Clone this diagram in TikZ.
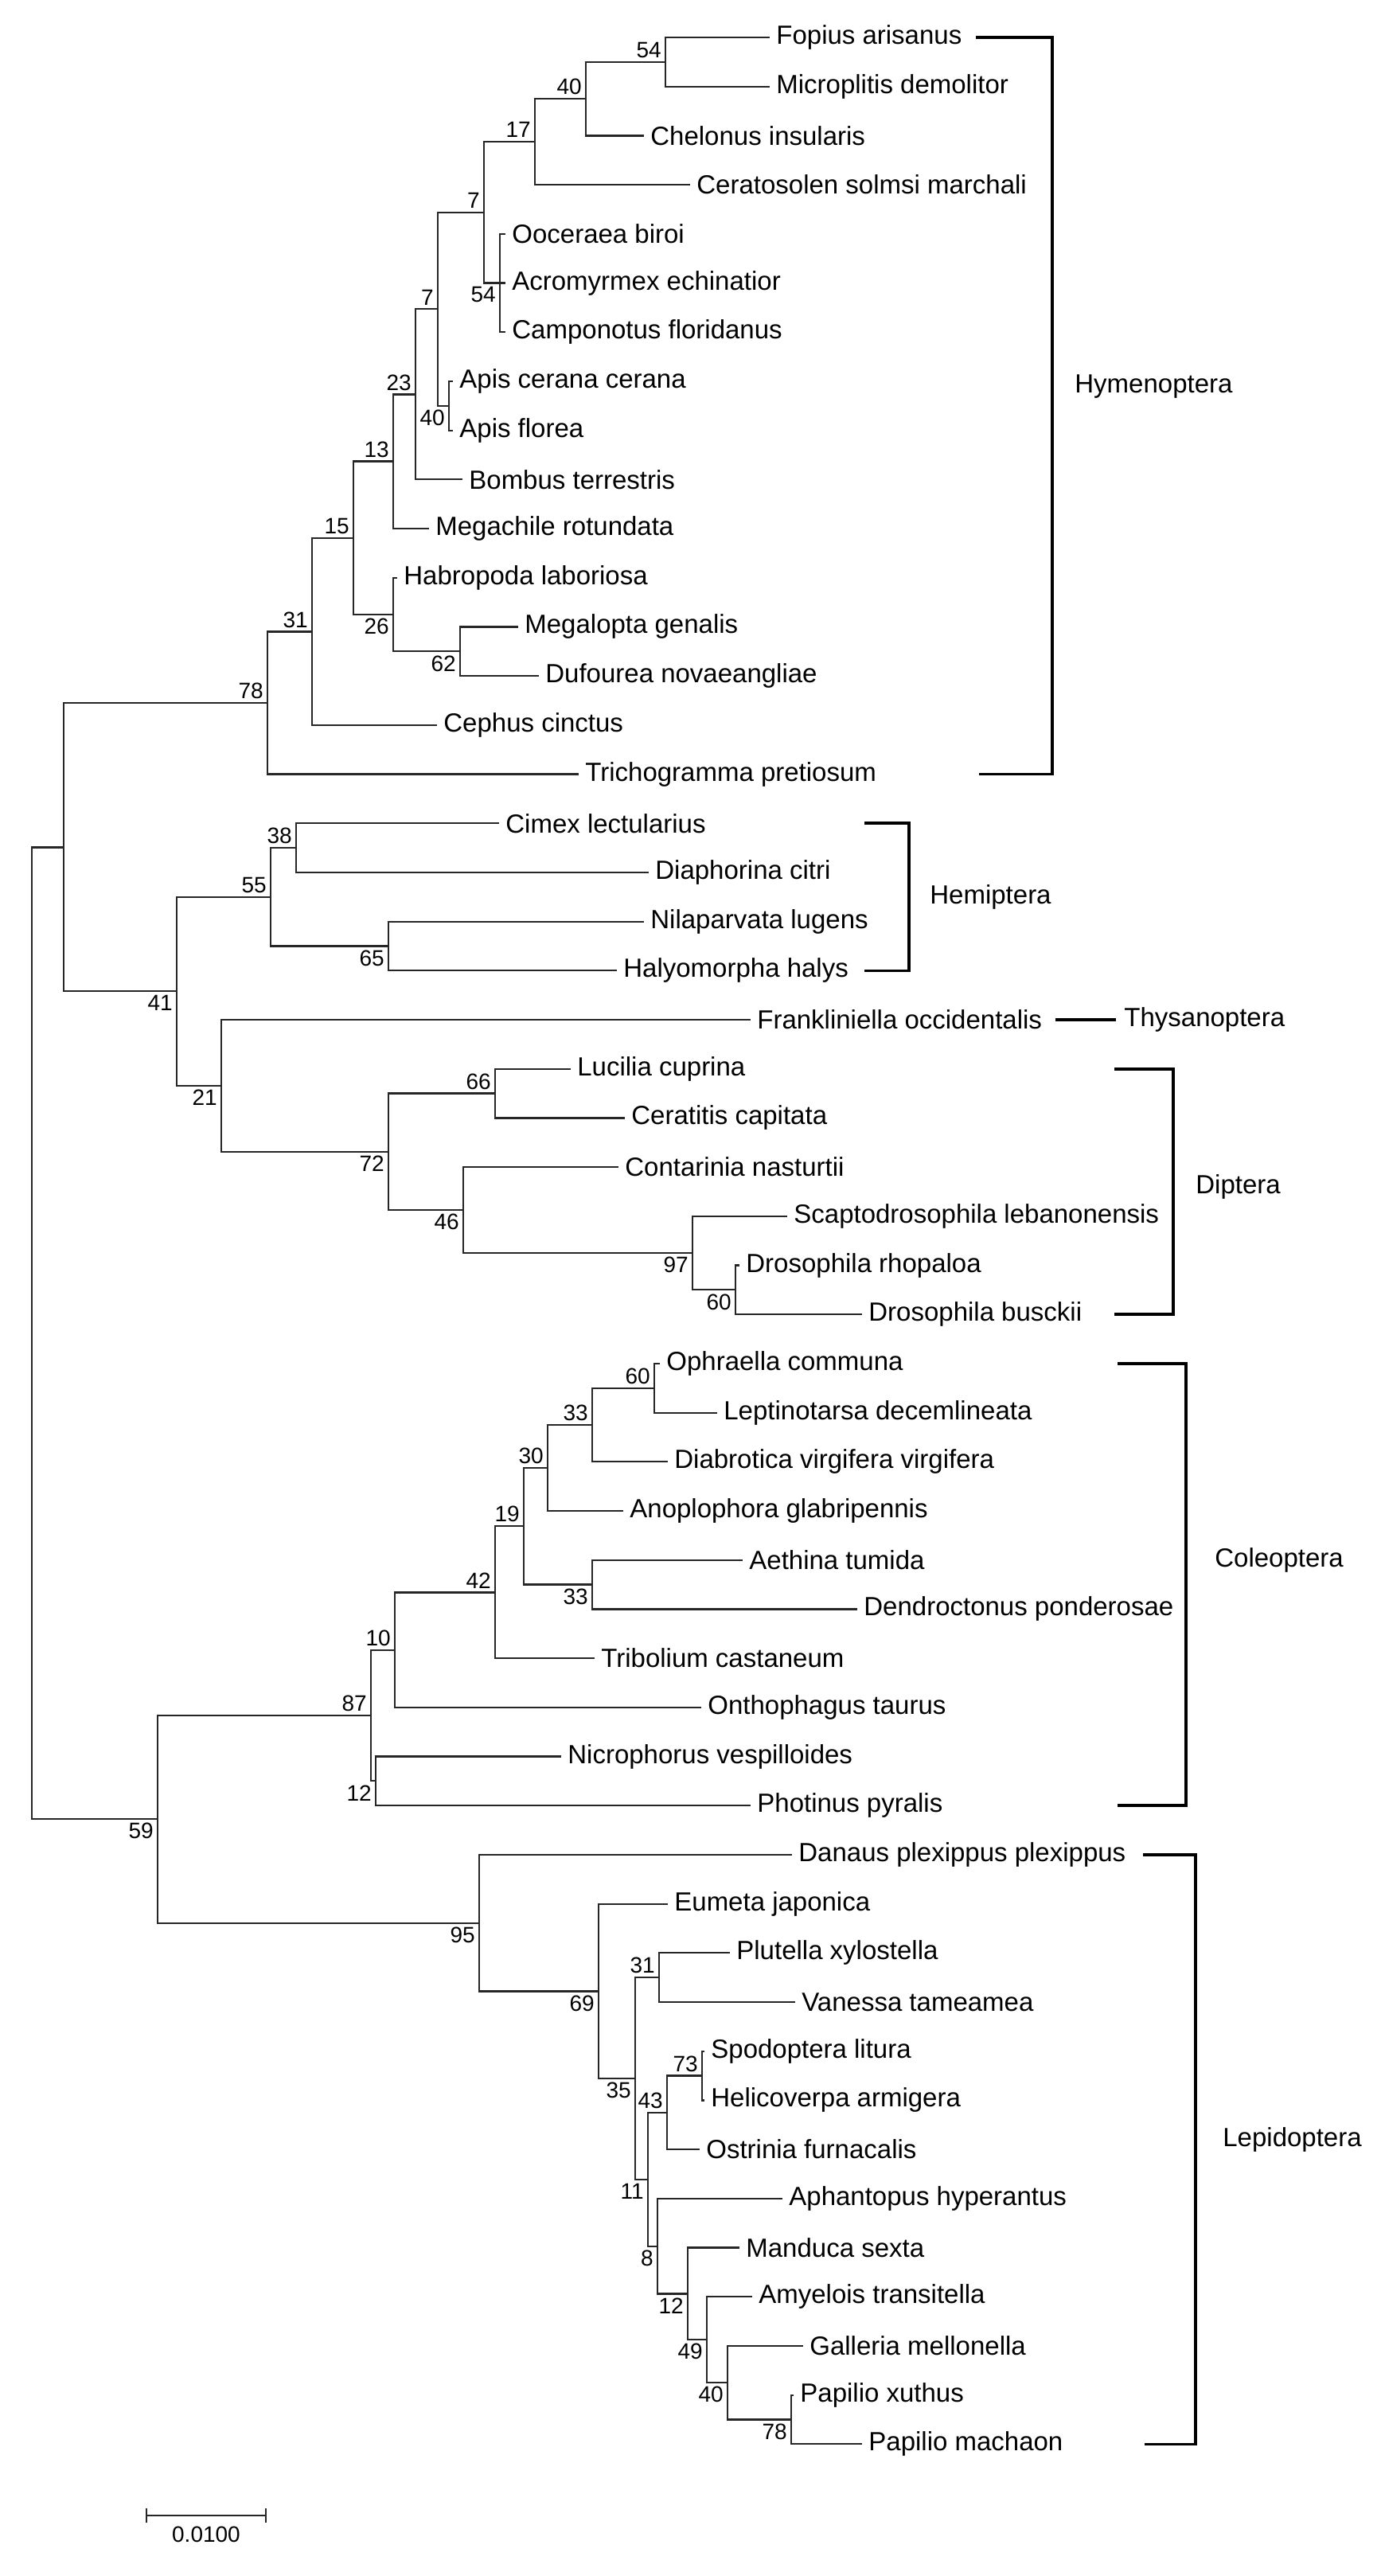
\documentclass[tikz,border=0pt]{standalone}
\usepackage{fontspec}
\setmainfont{Liberation Sans}
\begin{document}
\begin{tikzpicture}[x=1pt,y=-30.85pt,
 br/.style={line width=1.1pt,draw=black!85,line cap=rect},
 lf/.style={anchor=west,inner sep=0pt,font=\fontsize{16.5}{18}\selectfont},
 bs/.style={inner sep=2.4pt,font=\fontsize{14}{15}\selectfont},
 cl/.style={line width=1.8pt,draw=black},
 cn/.style={anchor=west,inner sep=0pt,font=\fontsize{16.5}{18}\selectfont}]
\useasboundingbox (0,-0.762) rectangle (867.5,51.686);
\newcommand\lfx[4]{\coordinate (#1) at (#3,#2); \node[lf] (t#1) at ([xshift=4.5pt]#1) {#4};}
\newcommand\kid[2]{\draw[br] (#1 |- #2) -- (#2);}
\newcommand\vsp[3]{\draw[br] (#1 |- #2) -- (#1 |- #3);}
\newcommand\bsa[2]{\node[bs,above left] (b#1) at (#1) {#2};}
\newcommand\bsb[2]{\node[bs,below left] (b#1) at (#1) {#2};}
% leaves
\lfx{Fopius}{0}{483}{Fopius arisanus}
\lfx{Micro}{1}{483}{Microplitis demolitor}
\lfx{Chel}{2}{404}{Chelonus insularis}
\lfx{Cerato}{3}{433}{Ceratosolen solmsi marchali}
\lfx{Oocer}{4}{317}{Ooceraea biroi}
\lfx{Acro}{5}{317}{Acromyrmex echinatior}
\lfx{Campo}{6}{317}{Camponotus floridanus}
\lfx{ApisC}{7}{284}{Apis cerana cerana}
\lfx{ApisF}{8}{284}{Apis florea}
\lfx{Bomb}{9}{290}{Bombus terrestris}
\lfx{Megach}{10}{269}{Megachile rotundata}
\lfx{Habro}{11}{249}{Habropoda laboriosa}
\lfx{Megalo}{12}{325}{Megalopta genalis}
\lfx{Dufo}{13}{338}{Dufourea novaeangliae}
\lfx{Ceph}{14}{274}{Cephus cinctus}
\lfx{Tricho}{15}{363}{Trichogramma pretiosum}
\lfx{Cimex}{16}{313}{Cimex lectularius}
\lfx{Diaph}{17}{407}{Diaphorina citri}
\lfx{Nila}{18}{404}{Nilaparvata lugens}
\lfx{Halyo}{19}{387}{Halyomorpha halys}
\lfx{Frank}{20}{471}{Frankliniella occidentalis}
\lfx{Luci}{21}{358}{Lucilia cuprina}
\lfx{Cerat}{22}{392}{Ceratitis capitata}
\lfx{Conta}{23}{388}{Contarinia nasturtii}
\lfx{Scapto}{24}{494}{Scaptodrosophila lebanonensis}
\lfx{Drho}{25}{464}{Drosophila rhopaloa}
\lfx{Dbus}{26}{541}{Drosophila busckii}
\lfx{Ophr}{27}{414}{Ophraella communa}
\lfx{Lept}{28}{450}{Leptinotarsa decemlineata}
\lfx{Diab}{29}{419}{Diabrotica virgifera virgifera}
\lfx{Anop}{30}{391}{Anoplophora glabripennis}
\lfx{Aeth}{31}{466}{Aethina tumida}
\lfx{Dend}{32}{538}{Dendroctonus ponderosae}
\lfx{Trib}{33}{373}{Tribolium castaneum}
\lfx{Onth}{34}{440}{Onthophagus taurus}
\lfx{Nicr}{35}{352}{Nicrophorus vespilloides}
\lfx{Phot}{36}{471}{Photinus pyralis}
\lfx{Danaus}{37}{497}{Danaus plexippus plexippus}
\lfx{Eumeta}{38}{419}{Eumeta japonica}
\lfx{Plut}{39}{458}{Plutella xylostella}
\lfx{Vane}{40}{499}{Vanessa tameamea}
\lfx{Spod}{41}{442}{Spodoptera litura}
\lfx{Heli}{42}{442}{Helicoverpa armigera}
\lfx{Ostr}{43}{439}{Ostrinia furnacalis}
\lfx{Aphan}{44}{491}{Aphantopus hyperantus}
\lfx{Mand}{45}{464}{Manduca sexta}
\lfx{Amye}{46}{472}{Amyelois transitella}
\lfx{Gall}{47}{504}{Galleria mellonella}
\lfx{Pxut}{48}{498}{Papilio xuthus}
\lfx{Pmac}{49}{541}{Papilio machaon}
% internal nodes
\coordinate (n54) at (418,0.5);
\coordinate (n40h) at (368,1.25);
\coordinate (n17) at (336,2.125);
\coordinate (n54b) at (314,5);
\coordinate (n7a) at (304,3.5625);
\coordinate (n40a) at (282,7.5);
\coordinate (n7b) at (275,5.53);
\coordinate (n23) at (261,7.27);
\coordinate (n13) at (247,8.63);
\coordinate (n62) at (289,12.5);
\coordinate (n26) at (247,11.75);
\coordinate (n15) at (222,10.19);
\coordinate (n31) at (196,12.1);
\coordinate (n78) at (168,13.55);
\coordinate (n38) at (186,16.5);
\coordinate (n65) at (244,18.5);
\coordinate (n55) at (170,17.5);
\coordinate (n66) at (311,21.5);
\coordinate (n60d) at (462,25.5);
\coordinate (n97) at (435,24.75);
\coordinate (n46) at (291,23.875);
\coordinate (n72) at (244,22.69);
\coordinate (n21) at (139,21.34);
\coordinate (n41) at (111,19.42);
\coordinate (nA) at (40,16.49);
\coordinate (n60c) at (411,27.5);
\coordinate (n33a) at (372,28.25);
\coordinate (n30) at (344,29.125);
\coordinate (n33b) at (372,31.5);
\coordinate (n19) at (329,30.31);
\coordinate (n42) at (311,31.66);
\coordinate (n10) at (248,32.83);
\coordinate (n12c) at (236,35.5);
\coordinate (n87) at (233,34.16);
\coordinate (n73) at (441,41.5);
\coordinate (n43) at (419,42.25);
\coordinate (n31l) at (414,39.5);
\coordinate (n78l) at (497,48.5);
\coordinate (n40l) at (457,47.75);
\coordinate (n49) at (444,46.875);
\coordinate (n12l) at (432,45.94);
\coordinate (n8) at (413,44.97);
\coordinate (n11) at (407,43.61);
\coordinate (n35) at (399,41.55);
\coordinate (n69) at (376,39.78);
\coordinate (n95) at (301,38.39);
\coordinate (n59) at (99,36.27);
\coordinate (root) at (20,26.38);
% branches
\vsp{n54}{Fopius}{Micro}\kid{n54}{Fopius}\kid{n54}{Micro}
\vsp{n40h}{n54}{Chel}\kid{n40h}{n54}\kid{n40h}{Chel}
\vsp{n17}{n40h}{Cerato}\kid{n17}{n40h}\kid{n17}{Cerato}
\vsp{n54b}{Oocer}{Campo}\kid{n54b}{Oocer}\kid{n54b}{Acro}\kid{n54b}{Campo}
\vsp{n7a}{n17}{n54b}\kid{n7a}{n17}\kid{n7a}{n54b}
\vsp{n40a}{ApisC}{ApisF}\kid{n40a}{ApisC}\kid{n40a}{ApisF}
\vsp{n7b}{n7a}{n40a}\kid{n7b}{n7a}\kid{n7b}{n40a}
\vsp{n23}{n7b}{Bomb}\kid{n23}{n7b}\kid{n23}{Bomb}
\vsp{n13}{n23}{Megach}\kid{n13}{n23}\kid{n13}{Megach}
\vsp{n62}{Megalo}{Dufo}\kid{n62}{Megalo}\kid{n62}{Dufo}
\vsp{n26}{Habro}{n62}\kid{n26}{Habro}\kid{n26}{n62}
\vsp{n15}{n13}{n26}\kid{n15}{n13}\kid{n15}{n26}
\vsp{n31}{n15}{Ceph}\kid{n31}{n15}\kid{n31}{Ceph}
\vsp{n78}{n31}{Tricho}\kid{n78}{n31}\kid{n78}{Tricho}
\vsp{n38}{Cimex}{Diaph}\kid{n38}{Cimex}\kid{n38}{Diaph}
\vsp{n65}{Nila}{Halyo}\kid{n65}{Nila}\kid{n65}{Halyo}
\vsp{n55}{n38}{n65}\kid{n55}{n38}\kid{n55}{n65}
\vsp{n66}{Luci}{Cerat}\kid{n66}{Luci}\kid{n66}{Cerat}
\vsp{n60d}{Drho}{Dbus}\kid{n60d}{Drho}\kid{n60d}{Dbus}
\vsp{n97}{Scapto}{n60d}\kid{n97}{Scapto}\kid{n97}{n60d}
\vsp{n46}{Conta}{n97}\kid{n46}{Conta}\kid{n46}{n97}
\vsp{n72}{n66}{n46}\kid{n72}{n66}\kid{n72}{n46}
\vsp{n21}{Frank}{n72}\kid{n21}{Frank}\kid{n21}{n72}
\vsp{n41}{n55}{n21}\kid{n41}{n55}\kid{n41}{n21}
\vsp{nA}{n78}{n41}\kid{nA}{n78}\kid{nA}{n41}
\vsp{n60c}{Ophr}{Lept}\kid{n60c}{Ophr}\kid{n60c}{Lept}
\vsp{n33a}{n60c}{Diab}\kid{n33a}{n60c}\kid{n33a}{Diab}
\vsp{n30}{n33a}{Anop}\kid{n30}{n33a}\kid{n30}{Anop}
\vsp{n33b}{Aeth}{Dend}\kid{n33b}{Aeth}\kid{n33b}{Dend}
\vsp{n19}{n30}{n33b}\kid{n19}{n30}\kid{n19}{n33b}
\vsp{n42}{n19}{Trib}\kid{n42}{n19}\kid{n42}{Trib}
\vsp{n10}{n42}{Onth}\kid{n10}{n42}\kid{n10}{Onth}
\vsp{n12c}{Nicr}{Phot}\kid{n12c}{Nicr}\kid{n12c}{Phot}
\vsp{n87}{n10}{n12c}\kid{n87}{n10}\kid{n87}{n12c}
\vsp{n73}{Spod}{Heli}\kid{n73}{Spod}\kid{n73}{Heli}
\vsp{n43}{n73}{Ostr}\kid{n43}{n73}\kid{n43}{Ostr}
\vsp{n31l}{Plut}{Vane}\kid{n31l}{Plut}\kid{n31l}{Vane}
\vsp{n78l}{Pxut}{Pmac}\kid{n78l}{Pxut}\kid{n78l}{Pmac}
\vsp{n40l}{Gall}{n78l}\kid{n40l}{Gall}\kid{n40l}{n78l}
\vsp{n49}{Amye}{n40l}\kid{n49}{Amye}\kid{n49}{n40l}
\vsp{n12l}{Mand}{n49}\kid{n12l}{Mand}\kid{n12l}{n49}
\vsp{n8}{Aphan}{n12l}\kid{n8}{Aphan}\kid{n8}{n12l}
\vsp{n11}{n43}{n8}\kid{n11}{n43}\kid{n11}{n8}
\vsp{n35}{n31l}{n11}\kid{n35}{n31l}\kid{n35}{n11}
\vsp{n69}{Eumeta}{n35}\kid{n69}{Eumeta}\kid{n69}{n35}
\vsp{n95}{Danaus}{n69}\kid{n95}{Danaus}\kid{n95}{n69}
\vsp{n59}{n87}{n95}\kid{n59}{n87}\kid{n59}{n95}
\vsp{root}{nA}{n59}\kid{root}{nA}\kid{root}{n59}
% bootstrap values
\bsa{n54}{54}\bsa{n40h}{40}\bsa{n17}{17}\bsa{n7a}{7}\bsb{n54b}{54}
\bsa{n7b}{7}\bsb{n40a}{40}\bsa{n23}{23}\bsa{n13}{13}\bsa{n15}{15}
\bsb{n26}{26}\bsb{n62}{62}\bsa{n31}{31}\bsa{n78}{78}
\bsa{n38}{38}\bsa{n55}{55}\bsb{n65}{65}\bsb{n41}{41}\bsb{n21}{21}
\bsb{n72}{72}\bsa{n66}{66}\bsb{n46}{46}\bsb{n97}{97}\bsb{n60d}{60}
\bsa{n60c}{60}\bsa{n33a}{33}\bsa{n30}{30}\bsa{n19}{19}\bsa{n42}{42}
\bsa{n10}{10}\bsa{n87}{87}\bsb{n33b}{33}\bsb{n12c}{12}\bsb{n59}{59}
\bsb{n95}{95}\bsb{n69}{69}\bsa{n31l}{31}\bsa{n73}{73}\bsa{n43}{43}
\bsb{n35}{35}\bsb{n11}{11}\bsb{n8}{8}\bsb{n12l}{12}\bsb{n49}{49}
\bsb{n40l}{40}\bsb{n78l}{78}
% clade brackets
\coordinate (hy1) at (613,0); \coordinate (hy2) at (661,0);
\coordinate (hy3) at (661,15); \coordinate (hy4) at (615,15);
\draw[cl] (hy1) -- (hy2) -- (hy3) -- (hy4);
\node[cn] (cHym) at (675,7.1) {Hymenoptera};
\coordinate (he1) at (543,16); \coordinate (he2) at (571,16);
\coordinate (he3) at (571,19); \coordinate (he4) at (543,19);
\draw[cl] (he1) -- (he2) -- (he3) -- (he4);
\node[cn] (cHem) at (584,17.5) {Hemiptera};
\coordinate (th1) at (663,20); \coordinate (th2) at (701,20);
\draw[cl] (th1) -- (th2);
\node[cn] (cThy) at (706,20) {Thysanoptera};
\coordinate (di1) at (700,21); \coordinate (di2) at (737,21);
\coordinate (di3) at (737,26); \coordinate (di4) at (700,26);
\draw[cl] (di1) -- (di2) -- (di3) -- (di4);
\node[cn] (cDip) at (751,23.4) {Diptera};
\coordinate (co1) at (702,27); \coordinate (co2) at (745,27);
\coordinate (co3) at (745,36); \coordinate (co4) at (702,36);
\draw[cl] (co1) -- (co2) -- (co3) -- (co4);
\node[cn] (cCol) at (763,31) {Coleoptera};
\coordinate (le1) at (718,37); \coordinate (le2) at (751,37);
\coordinate (le3) at (751,49); \coordinate (le4) at (719,49);
\draw[cl] (le1) -- (le2) -- (le3) -- (le4);
\node[cn] (cLep) at (768,42.8) {Lepidoptera};
% scale bar
\coordinate (sb1) at (92,50.45); \coordinate (sb2) at (167,50.45);
\draw[br] (sb1) -- (sb2);
\draw[br] ([yshift=-4pt]sb1) -- ([yshift=4pt]sb1);
\draw[br] ([yshift=-4pt]sb2) -- ([yshift=4pt]sb2);
\node[bs,anchor=north] (sbt) at (129.5,50.6) {0.0100};
\end{tikzpicture}
\end{document}
